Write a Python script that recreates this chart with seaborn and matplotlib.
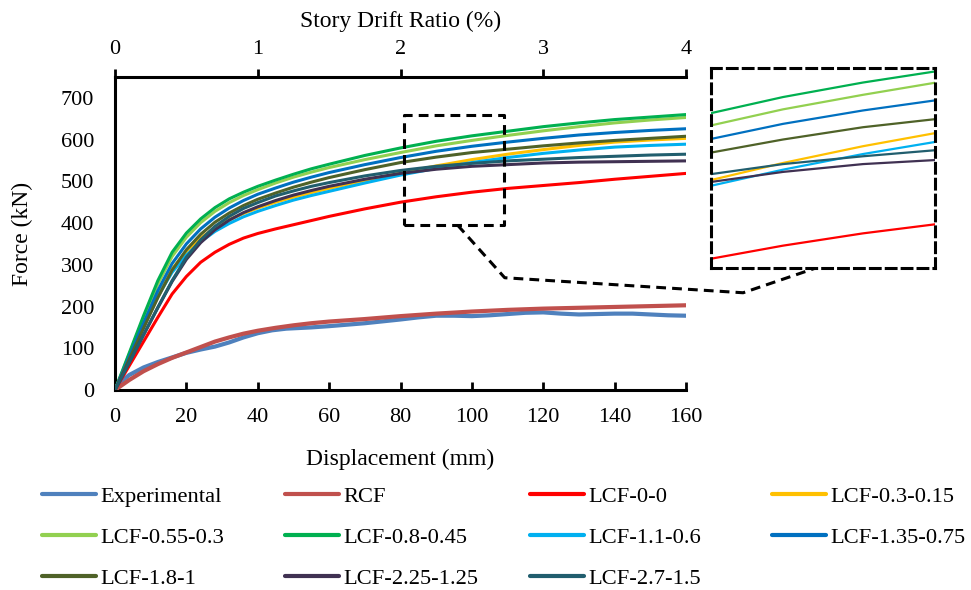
import numpy as np
import pandas as pd
import matplotlib
matplotlib.use("Agg")
import matplotlib.pyplot as plt
from matplotlib.patches import Rectangle
from matplotlib.lines import Line2D
import seaborn as sns

# ---------------- data ----------------
disp = [0, 4, 8, 12, 16, 20, 24, 28, 32, 36, 40, 45, 50, 55, 60,
        70, 80, 90, 100, 110, 120, 130, 140, 150, 160]

exp_disp = [0, 2, 4, 8, 12, 16, 20, 24, 28, 32, 36, 40, 44, 48, 55, 60, 70,
            80, 85, 90, 95, 100, 105, 110, 115, 120, 125, 130, 135, 140,
            145, 150, 155, 160]
exp_force = [0, 22, 36, 54, 67, 78, 89, 97, 104, 114, 126, 136, 143, 147,
             150, 153, 160, 169, 174, 178, 178, 177, 179, 182, 185, 186,
             183, 181, 182, 183, 183, 181, 179, 178]

rcf = [0, 24, 45, 62, 77, 90, 103, 116, 126, 135, 142, 149, 155, 160, 164,
       170, 177, 183, 188, 192, 195, 197, 199, 201, 203]
lcf_0_0 = [0, 58, 116, 174, 230, 272, 306, 330, 349, 364, 375, 386, 396,
           406, 416, 434, 450, 463, 474, 483, 490, 497, 505, 512, 519]
lcf_03_015 = [0, 78, 156, 230, 290, 332, 364, 389, 408, 423, 436, 450, 462,
              473, 483, 502, 520, 537, 552, 565, 576, 586, 594, 599, 603]
lcf_055_03 = [0, 86, 172, 254, 320, 366, 401, 428, 449, 466, 480, 496, 510,
              522, 533, 552, 569, 585, 598, 610, 621, 631, 640, 647, 653]
lcf_08_045 = [0, 89, 178, 262, 330, 376, 410, 437, 458, 474, 488, 503, 517,
              530, 541, 562, 580, 596, 609, 620, 631, 640, 648, 654, 660]
lcf_11_06 = [0, 76, 152, 224, 282, 323, 355, 380, 399, 415, 428, 442, 455,
             466, 476, 496, 515, 531, 545, 557, 567, 575, 582, 586, 589]
lcf_135_075 = [0, 80, 160, 238, 303, 350, 386, 414, 436, 454, 469, 484, 498,
               510, 521, 540, 557, 572, 584, 594, 603, 611, 617, 622, 626]
lcf_18_1 = [0, 74, 148, 221, 287, 336, 373, 402, 424, 442, 457, 472, 486,
            498, 509, 528, 545, 558, 569, 577, 585, 592, 598, 603, 608]
lcf_225_125 = [0, 66, 132, 197, 260, 313, 353, 384, 407, 425, 439, 454, 467,
               478, 488, 505, 519, 529, 536, 540, 544, 546, 547, 548, 549]
lcf_27_15 = [0, 66, 132, 198, 262, 318, 360, 392, 416, 435, 449, 465, 477,
             488, 497, 513, 526, 536, 543, 549, 553, 557, 560, 563, 565]

drift_ticks = [0, 1, 2, 3, 4]
story_height_mm = 4000

series = [
    ("Experimental", exp_disp, exp_force, "#4F81BD", 3.0),
    ("RCF", disp, rcf, "#C0504D", 3.0),
    ("LCF-0-0", disp, lcf_0_0, "#FF0000", 2.2),
    ("LCF-0.3-0.15", disp, lcf_03_015, "#FFC000", 2.2),
    ("LCF-0.55-0.3", disp, lcf_055_03, "#92D050", 2.2),
    ("LCF-0.8-0.45", disp, lcf_08_045, "#00B050", 2.2),
    ("LCF-1.1-0.6", disp, lcf_11_06, "#00B0F0", 2.2),
    ("LCF-1.35-0.75", disp, lcf_135_075, "#0070C0", 2.2),
    ("LCF-1.8-1", disp, lcf_18_1, "#4F6228", 2.2),
    ("LCF-2.25-1.25", disp, lcf_225_125, "#403152", 2.2),
    ("LCF-2.7-1.5", disp, lcf_27_15, "#215E6E", 2.2),
]

# ---------------- style ----------------
sns.set_theme(style="white")
plt.rcParams["font.family"] = ["Liberation Serif", "DejaVu Serif"]

W, H = 971, 590
fig = plt.figure(figsize=(W / 100, H / 100), dpi=100)
ax = fig.add_axes([115 / W, 1 - 390 / H, (686 - 115) / W, (390 - 77) / H])

handles = {}
for name, xs, ys, color, lw in series:
    df = pd.DataFrame({"Displacement": xs, "Force": ys})
    sns.lineplot(data=df, x="Displacement", y="Force", ax=ax, color=color,
                 lw=lw, sort=False, estimator=None, legend=False, zorder=3)
    handles[name] = Line2D([], [], color=color, lw=3.0)

ax.set_xlim(0, 160)
ax.set_ylim(0, 750)
ax.set_xticks(np.arange(0, 161, 20))
ax.set_yticks(np.arange(0, 701, 100))
for s in ["left", "bottom"]:
    ax.spines[s].set_linewidth(2.2)
    ax.spines[s].set_color("black")
ax.spines["right"].set_visible(False)
ax.spines["top"].set_visible(False)
ax.tick_params(axis="x", direction="in", length=6, width=2, colors="black",
               labelsize=16, pad=13, bottom=True)
ax.tick_params(axis="y", length=0, labelsize=16, pad=15, labelcolor="black")
ax.set_xlabel("Displacement (mm)", fontsize=17, labelpad=16, color="black")
ax.set_ylabel("Force (kN)", fontsize=17, labelpad=20, color="black")

# drift ratio axis on top
secax = ax.secondary_xaxis(
    "top",
    functions=(lambda d: d / story_height_mm * 100,
               lambda r: r * story_height_mm / 100))
secax.set_xticks(drift_ticks)
secax.spines["top"].set_linewidth(2.2)
secax.spines["top"].set_color("black")
secax.tick_params(axis="x", direction="out", length=6, width=2,
                  colors="black", labelsize=16, pad=7)
secax.set_xlabel("Story Drift Ratio (%)", fontsize=17, labelpad=9,
                 color="black")

# zoom window and magnified view
zx0, zx1, zy0, zy1 = 81, 109, 395, 660
dash = (0, (3.2, 2.0))
ax.add_patch(Rectangle((zx0, zy0), zx1 - zx0, zy1 - zy0, fill=False,
                       ec="black", lw=2.2, ls=dash, joinstyle="round",
                       zorder=4))

axin = fig.add_axes([711 / W, 1 - 268 / H, 224 / W, 200 / H])
for name, xs, ys, color, lw in series[2:]:
    df = pd.DataFrame({"Displacement": xs, "Force": ys})
    sns.lineplot(data=df, x="Displacement", y="Force", ax=axin, color=color,
                 lw=1.6, sort=False, estimator=None, legend=False)
axin.set_xlim(zx0, zx1)
axin.set_ylim(443, 622)
axin.set_xticks([])
axin.set_yticks([])
axin.set_xlabel("")
axin.set_ylabel("")
for s in axin.spines.values():
    s.set_linestyle(dash)
    s.set_linewidth(2.2)
    s.set_color("black")

# leader line from the zoom window to the magnified view
leader_x = [(zx0 + zx1) / 2 + 1, zx1 + 0.2, 176, 196.6]
leader_y = [zy0, 269, 233, 293]
ax.plot(leader_x, leader_y, color="black", lw=2.2, ls=dash, clip_on=False,
        zorder=4)

# legend: four columns laid out under the plot
columns = [
    ["Experimental", "LCF-0.55-0.3", "LCF-1.8-1"],
    ["RCF", "LCF-0.8-0.45", "LCF-2.25-1.25"],
    ["LCF-0-0", "LCF-1.1-0.6", "LCF-2.7-1.5"],
    ["LCF-0.3-0.15", "LCF-1.35-0.75"],
]
col_x = [42, 285, 530, 772]
for names, cx in zip(columns, col_x):
    fig.legend([handles[n] for n in names], names, loc="upper left",
               bbox_to_anchor=(cx / W, 1 - 486 / H), frameon=False,
               fontsize=16.2, handlelength=2.4, handletextpad=0.2,
               labelspacing=0.9, borderpad=0, borderaxespad=0,
               labelcolor="black")

fig.savefig("out.png", dpi=100)
